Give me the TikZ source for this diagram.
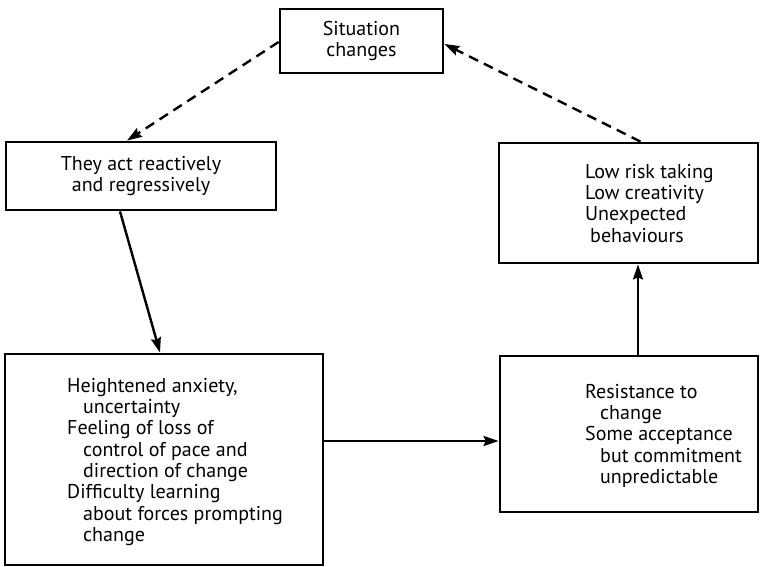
\documentclass[tikz,border=0pt]{standalone}
\usepackage{fontspec}
\setmainfont{PT Sans}
\usetikzlibrary{arrows.meta,calc}
\begin{document}
\begin{tikzpicture}[x=1pt,y=-1pt,
  box/.style={draw,line width=2.8pt,inner sep=0pt},
  txt/.style={inner sep=0pt,align=left,anchor=north west,
    font=\fontsize{20}{21.3}\selectfont},
  ctxt/.style={inner sep=0pt,align=center,
    font=\fontsize{20}{21.3}\selectfont},
  flow/.style={line width=2.4pt,-{Stealth[length=15pt,width=10pt,inset=2pt]}},
  back/.style={flow,dash pattern=on 10pt off 6.5pt}]
\useasboundingbox (0,0) rectangle (768,567);

% boxes
\node[box,minimum width=163pt,minimum height=64pt] (sit) at (361.5,41) {};
\node[box,minimum width=270pt,minimum height=68pt] (react) at (141,176) {};
\node[box,minimum width=259pt,minimum height=120pt] (low) at (628.5,203) {};
\node[box,minimum width=318pt,minimum height=211pt] (anx) at (164,459.5) {};
\node[box,minimum width=258pt,minimum height=156pt] (res) at (629,434) {};

% texts
\node[ctxt] (sitT) at (sit) {Situation\\changes};
\node[ctxt] (reactT) at (react) {They act reactively\\and regressively};
\node[txt] (lowT) at (585,164) {Low risk taking\\Low creativity\\Unexpected\\\hspace*{5pt}behaviours};
\node[txt] (anxT) at (67,378) {Heightened anxiety,\\\hspace*{16pt}uncertainty\\Feeling of loss of\\\hspace*{16pt}control of pace and\\\hspace*{16pt}direction of change\\Difficulty learning\\\hspace*{16pt}about forces prompting\\\hspace*{16pt}change};
\node[txt] (resT) at (585,384) {Resistance to\\\hspace*{15pt}change\\Some acceptance\\\hspace*{15pt}but commitment\\\hspace*{15pt}unpredictable};

% cycle
\draw[flow] ([xshift=-21pt]react.south) -- ([xshift=-4pt]anx.north);
\draw[flow] ([yshift=18.5pt]anx.east) -- ([yshift=18.5pt]anx.east -| res.west);
\draw[flow] ([xshift=9pt]res.north) -- ([xshift=9pt]res.north |- low.south);
\draw[back] ([xshift=12pt]low.north) -- ([yshift=-3pt]sit.east);
\draw[back] ([yshift=-1pt]sit.west) -- ([xshift=-14pt]react.north);
\end{tikzpicture}
\end{document}
